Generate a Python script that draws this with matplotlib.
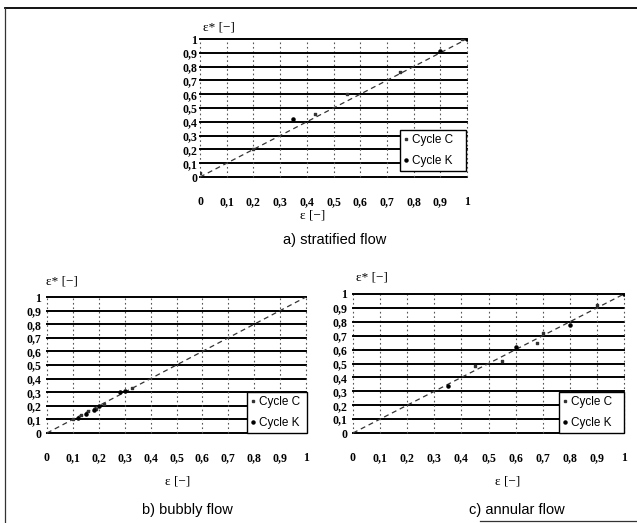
import matplotlib.pyplot as plt
from matplotlib.lines import Line2D

# ---------------------------------------------------------------------------
# Data read off the scanned figure (measured void fraction vs. reference)
# ---------------------------------------------------------------------------
TICKS = [0, 0.1, 0.2, 0.3, 0.4, 0.5, 0.6, 0.7, 0.8, 0.9, 1.0]

strat_c_x = [0.0, 0.2, 0.43, 0.55, 0.75, 0.98]
strat_c_y = [0.03, 0.20, 0.46, 0.60, 0.76, 1.00]
strat_k_x = [0.35, 0.90, 1.00]
strat_k_y = [0.42, 0.91, 1.00]

bubbly_c_x = [0.10, 0.13, 0.16, 0.19, 0.22, 0.33]
bubbly_c_y = [0.10, 0.13, 0.16, 0.18, 0.21, 0.33]
bubbly_k_x = [0.12, 0.15, 0.18, 0.20, 0.28, 0.30]
bubbly_k_y = [0.11, 0.14, 0.17, 0.20, 0.30, 0.31]

annular_c_x = [0.45, 0.55, 0.68, 0.70, 0.90]
annular_c_y = [0.48, 0.52, 0.65, 0.72, 0.92]
annular_k_x = [0.35, 0.60, 0.80, 1.00]
annular_k_y = [0.34, 0.62, 0.78, 1.00]

W, H = 637, 523


def fx(px):
    return px / W


def fy(py):
    return 1 - py / H


def tick_text(v):
    if v in (0, 1.0):
        return str(int(v))
    return f"{v:.1f}".replace(".", ",")


def draw_panel(fig, box, cx, cy, kx, ky, legend_box, ypad, xpad):
    left, top, right, bottom = box
    ax = fig.add_axes([fx(left), fy(bottom), fx(right - left), fy(top) - fy(bottom)])
    ax.set_xlim(0, 1)
    ax.set_ylim(0, 1)
    for sp in ax.spines.values():
        sp.set_visible(False)
    for v in TICKS:
        ax.axhline(v, color="black", linewidth=1.4, clip_on=False, zorder=1)
        ax.axvline(v, color="#555555", linewidth=0.8, linestyle=(0, (1.5, 2.5)),
                   clip_on=False, zorder=1)
    ax.plot([0, 1], [0, 1], color="#333333", linewidth=0.9,
            linestyle=(0, (4, 3)), zorder=2)
    ax.scatter(cx, cy, s=4, marker="s", color="#333333", zorder=3, label="Cycle C")
    ax.scatter(kx, ky, s=5, marker="o", color="black", zorder=3, label="Cycle K")

    ax.set_xticks(TICKS)
    ax.set_yticks(TICKS)
    ax.set_xticklabels([tick_text(v) for v in TICKS])
    ax.set_yticklabels([tick_text(v) for v in TICKS])
    ax.tick_params(length=0, labelsize=8.5)
    ax.tick_params(axis="y", pad=ypad)
    ax.tick_params(axis="x", pad=xpad)
    for lab in ax.get_xticklabels() + ax.get_yticklabels():
        lab.set_fontfamily("Liberation Serif")
        lab.set_fontweight("bold")

    handles = [
        Line2D([], [], marker="s", markersize=2.0, linestyle="none", color="#333333"),
        Line2D([], [], marker="o", markersize=2.2, linestyle="none", color="black"),
    ]
    lx0, ly0, lx1, ly1 = legend_box
    leg = fig.legend(handles, ["Cycle C", "Cycle K"],
                     loc="lower left",
                     bbox_to_anchor=(fx(lx0), fy(ly1), fx(lx1 - lx0), fy(ly0) - fy(ly1)),
                     mode="expand", handlelength=0.4, handletextpad=0.3,
                     labelspacing=0.8, borderpad=0.3, borderaxespad=0,
                     fancybox=False, framealpha=1, edgecolor="black",
                     prop={"family": "Liberation Sans", "size": 8.5})
    leg.get_frame().set_linewidth(1.0)
    leg.set_zorder(5)
    return ax


fig = plt.figure(figsize=(W / 100, H / 100), dpi=100)
fig.patch.set_facecolor("white")

draw_panel(fig, (200, 39, 467, 177), strat_c_x, strat_c_y, strat_k_x, strat_k_y,
           (400, 131, 466, 171), ypad=2, xpad=14)
draw_panel(fig, (47, 297, 306, 433), bubbly_c_x, bubbly_c_y, bubbly_k_x, bubbly_k_y,
           (247, 383, 307, 433), ypad=4, xpad=14)
draw_panel(fig, (353, 294, 624, 433), annular_c_x, annular_c_y, annular_k_x, annular_k_y,
           (559, 387, 624, 433), ypad=4, xpad=14)

serif = {"family": "Liberation Serif", "size": 9.5}
sans = {"family": "Liberation Sans", "size": 10.5}

# axis labels
fig.text(fx(203), fy(28), "ε* [−]", ha="left", va="center", **serif)
fig.text(fx(46), fy(282), "ε* [−]", ha="left", va="center", **serif)
fig.text(fx(356), fy(278), "ε* [−]", ha="left", va="center", **serif)
fig.text(fx(313), fy(215), "ε [−]", ha="center", va="center", **serif)
fig.text(fx(178), fy(482), "ε [−]", ha="center", va="center", **serif)
fig.text(fx(508), fy(481), "ε [−]", ha="center", va="center", **serif)

# panel captions
fig.text(fx(335), fy(240), "a) stratified flow", ha="center", va="center", **sans)
fig.text(fx(187), fy(510), "b) bubbly flow", ha="center", va="center", **sans)
fig.text(fx(517), fy(510), "c) annular flow", ha="center", va="center", **sans)

# scan frame
fig.add_artist(Line2D([fx(5), fx(637)], [fy(8), fy(8)], color="black", linewidth=1.3))
fig.add_artist(Line2D([fx(5), fx(5)], [fy(8), fy(523)], color="#333333", linewidth=0.9))
fig.add_artist(Line2D([fx(480), fx(637)], [fy(521), fy(521)], color="#333333", linewidth=0.9))

fig.savefig("out.png", dpi=100, facecolor="white")
